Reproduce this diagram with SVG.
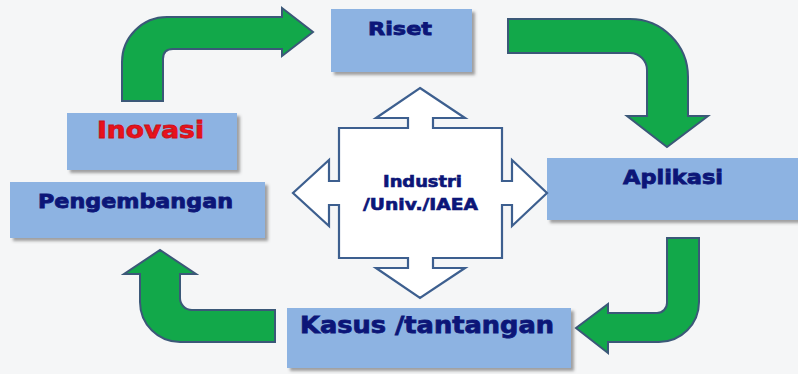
<svg xmlns="http://www.w3.org/2000/svg" width="798" height="374" viewBox="0 0 798 374">
<defs>
<filter id="sh" x="-10%" y="-10%" width="130%" height="140%">
<feDropShadow dx="3" dy="3" stdDeviation="1.6" flood-color="#555" flood-opacity="0.55"/>
</filter>
<style>
.box{fill:#8db3e2;filter:url(#sh);}
.lbl{font-family:"DejaVu Sans","Liberation Sans",sans-serif;font-weight:bold;fill:#0c1678;stroke:#0c1678;stroke-width:0.8;}
.red{fill:#e8121c;stroke:#c8101a;}
.garrow{fill:#12a84a;stroke:#3b5878;stroke-width:2;stroke-linejoin:miter;}
.cross{fill:#ffffff;stroke:#3d5f8f;stroke-width:2.2;stroke-linejoin:miter;}
</style>
</defs>
<rect width="798" height="374" fill="#f5f6f7"/>

<g id="connectors">
<path class="garrow" d="M122,101 L122,62 A45,45 0 0 1 167,17 L282,17 L282,8 L313,32 L282,56 L282,49 L173,49 Q163,49 163,59 L163,101 Z"/>
<path class="garrow" d="M508,19 L630,19 A58,58 0 0 1 688,77 L688,116 L708,116 L667,147 L627,116 L647,116 L647,70 A17,17 0 0 0 630,53 L508,53 Z"/>
<path class="garrow" d="M667,238 L699,238 L699,302 A40,40 0 0 1 659,342 L608,342 L608,353 L576,328 L608,304 L608,313 L657,313 A10,10 0 0 0 667,303 Z"/>
<path class="garrow" d="M275,310 L192,310 A12,12 0 0 1 180,298 L180,274 L196,274 L160,250 L124,274 L140,274 L140,302 A40,40 0 0 0 180,342 L275,342 Z"/>
</g>

<g id="riset">
<rect class="box" x="331" y="9" width="141" height="63"/>
<text class="lbl" x="368" y="35" font-size="18.5" textLength="64" lengthAdjust="spacingAndGlyphs">Riset</text>
</g>

<g id="inovasi">
<rect class="box" x="67" y="113" width="170" height="57"/>
<text class="lbl red" x="97" y="138" font-size="23" textLength="107" lengthAdjust="spacingAndGlyphs">Inovasi</text>
</g>

<g id="pengembangan">
<rect class="box" x="10" y="182" width="255" height="56"/>
<text class="lbl" x="38" y="208" font-size="19" textLength="195" lengthAdjust="spacingAndGlyphs">Pengembangan</text>
</g>

<g id="aplikasi">
<rect class="box" x="547" y="158" width="251" height="62"/>
<text class="lbl" x="623" y="184" font-size="20" textLength="100" lengthAdjust="spacingAndGlyphs">Aplikasi</text>
</g>

<g id="kasus">
<rect class="box" x="287" y="308" width="284" height="60"/>
<text class="lbl" x="300" y="333" font-size="23" textLength="254" lengthAdjust="spacingAndGlyphs">Kasus /tantangan</text>
</g>

<g id="industri">
<path class="cross" d="M420,88 L465,118 L433,118 L433,128 L502,128 L502,181 L512,181 L512,160 L547,193 L512,226 L512,205 L502,205 L502,258 L433,258 L433,268 L465,268 L420,298 L376,268 L408,268 L408,258 L339,258 L339,205 L329,205 L329,226 L293,193 L329,160 L329,181 L339,181 L339,128 L408,128 L408,118 L376,118 Z"/>
<text class="lbl" x="383" y="187" font-size="15" textLength="79" lengthAdjust="spacingAndGlyphs" style="stroke-width:0.6">Industri</text>
<text class="lbl" x="363" y="210" font-size="15" textLength="115" lengthAdjust="spacingAndGlyphs" style="stroke-width:0.6">/Univ./IAEA</text>
</g>
</svg>
